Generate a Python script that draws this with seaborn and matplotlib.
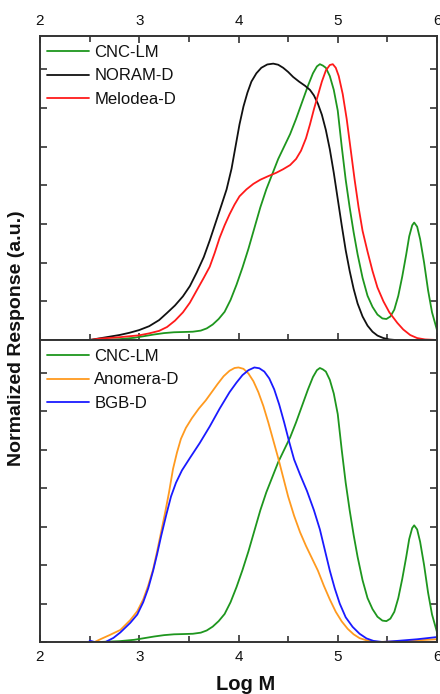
import numpy as np
import pandas as pd
import matplotlib
matplotlib.use("Agg")
import matplotlib.pyplot as plt
from matplotlib.ticker import MultipleLocator
import seaborn as sns

# ---- data (Log M vs normalized response) ----
cnc_x = [2.60, 2.80, 2.95, 3.05, 3.15, 3.25, 3.35, 3.45, 3.54, 3.62, 3.68, 3.74, 3.80, 3.86, 3.92,
         3.98, 4.04, 4.10, 4.16, 4.22, 4.28, 4.34, 4.40, 4.46, 4.52, 4.58, 4.64, 4.70, 4.75, 4.79,
         4.82, 4.85, 4.88, 4.92, 4.96, 5.00, 5.04, 5.08, 5.12, 5.16, 5.20, 5.25, 5.30, 5.35, 5.40,
         5.45, 5.49, 5.53, 5.57, 5.61, 5.65, 5.69, 5.72, 5.75, 5.77, 5.80, 5.83, 5.87, 5.91, 5.95, 6.00]
cnc_y = [0.000, 0.003, 0.008, 0.014, 0.020, 0.025, 0.028, 0.029, 0.030, 0.034, 0.042, 0.056, 0.076, 0.102, 0.145,
         0.200, 0.262, 0.330, 0.405, 0.480, 0.545, 0.600, 0.655, 0.700, 0.745, 0.800, 0.860, 0.920, 0.965, 0.990,
         0.998, 0.993, 0.985, 0.955, 0.905, 0.830, 0.700, 0.580, 0.480, 0.390, 0.310, 0.225, 0.160, 0.120, 0.092,
         0.078, 0.076, 0.085, 0.110, 0.160, 0.230, 0.310, 0.375, 0.415, 0.425, 0.410, 0.365, 0.280, 0.180, 0.100, 0.036]

noram_x = [2.50, 2.60, 2.70, 2.80, 2.90, 3.00, 3.10, 3.20, 3.28, 3.36, 3.44, 3.51, 3.58, 3.65, 3.71,
           3.77, 3.83, 3.88, 3.93, 3.97, 4.01, 4.05, 4.09, 4.13, 4.18, 4.23, 4.29, 4.35, 4.40, 4.45,
           4.50, 4.55, 4.61, 4.67, 4.72, 4.76, 4.80, 4.84, 4.88, 4.92, 4.96, 5.00, 5.04, 5.08, 5.12,
           5.16, 5.20, 5.25, 5.30, 5.35, 5.40, 5.46, 5.52, 5.58]
noram_y = [0.000, 0.006, 0.012, 0.018, 0.026, 0.036, 0.050, 0.072, 0.098, 0.125, 0.158, 0.195, 0.245, 0.300, 0.360,
           0.425, 0.490, 0.545, 0.620, 0.700, 0.780, 0.845, 0.895, 0.935, 0.965, 0.985, 0.997, 1.000, 0.996, 0.985,
           0.970, 0.952, 0.935, 0.920, 0.905, 0.885, 0.855, 0.815, 0.760, 0.690, 0.605, 0.510, 0.415, 0.325, 0.250,
           0.185, 0.132, 0.085, 0.052, 0.030, 0.016, 0.007, 0.002, 0.000]

melodea_x = [2.50, 2.60, 2.80, 3.00, 3.10, 3.20, 3.28, 3.36, 3.44, 3.51, 3.58, 3.65, 3.71, 3.76, 3.81,
             3.86, 3.91, 3.96, 4.01, 4.08, 4.15, 4.22, 4.30, 4.38, 4.45, 4.52, 4.58, 4.63, 4.68, 4.72,
             4.76, 4.80, 4.84, 4.88, 4.92, 4.95, 4.98, 5.01, 5.05, 5.09, 5.13, 5.17, 5.21, 5.25, 5.30,
             5.35, 5.40, 5.46, 5.52, 5.60, 5.66, 5.73, 5.80, 5.88, 6.00]
melodea_y = [0.000, 0.005, 0.010, 0.017, 0.024, 0.033, 0.047, 0.070, 0.100, 0.135, 0.180, 0.225, 0.265, 0.315, 0.370,
             0.415, 0.455, 0.490, 0.520, 0.545, 0.565, 0.580, 0.593, 0.605, 0.618, 0.633, 0.655, 0.685, 0.730, 0.780,
             0.835, 0.885, 0.935, 0.975, 0.995, 0.998, 0.985, 0.955, 0.890, 0.800, 0.690, 0.580, 0.480, 0.395, 0.320,
             0.250, 0.190, 0.140, 0.100, 0.062, 0.038, 0.018, 0.007, 0.002, 0.000]

anomera_x = [2.55, 2.62, 2.70, 2.81, 2.91, 2.98, 3.04, 3.09, 3.14, 3.18, 3.22, 3.26, 3.30, 3.34, 3.38,
             3.42, 3.47, 3.53, 3.60, 3.67, 3.73, 3.79, 3.85, 3.91, 3.96, 4.00, 4.05, 4.10, 4.15, 4.20,
             4.25, 4.30, 4.35, 4.40, 4.45, 4.50, 4.56, 4.62, 4.68, 4.74, 4.80, 4.86, 4.92, 4.98, 5.04,
             5.10, 5.16, 5.22, 5.30, 5.40, 5.60, 5.80, 6.00]
anomera_y = [0.000, 0.012, 0.025, 0.044, 0.080, 0.112, 0.155, 0.205, 0.265, 0.330, 0.400, 0.470, 0.545, 0.630, 0.690,
             0.740, 0.780, 0.815, 0.850, 0.880, 0.910, 0.940, 0.968, 0.988, 0.998, 1.000, 0.995, 0.978, 0.950, 0.910,
             0.860, 0.800, 0.735, 0.670, 0.600, 0.530, 0.460, 0.400, 0.350, 0.305, 0.260, 0.205, 0.155, 0.110, 0.075,
             0.048, 0.028, 0.014, 0.005, 0.000, 0.002, 0.006, 0.010]

bgb_x = [2.50, 2.55, 2.60, 2.66, 2.74, 2.81, 2.91, 2.98, 3.04, 3.09, 3.14, 3.18, 3.22, 3.27, 3.32,
         3.37, 3.43, 3.51, 3.61, 3.71, 3.81, 3.91, 3.98, 4.04, 4.10, 4.16, 4.21, 4.26, 4.31, 4.36,
         4.41, 4.46, 4.51, 4.56, 4.62, 4.69, 4.76, 4.82, 4.87, 4.92, 4.97, 5.02, 5.08, 5.15, 5.22,
         5.29, 5.36, 5.45, 5.60, 5.80, 6.00]
bgb_y = [0.005, 0.000, -0.004, 0.000, 0.015, 0.035, 0.070, 0.100, 0.145, 0.195, 0.260, 0.320, 0.385, 0.460, 0.530,
         0.580, 0.625, 0.670, 0.725, 0.785, 0.850, 0.910, 0.945, 0.972, 0.990, 1.000, 0.997, 0.985, 0.960, 0.920,
         0.865, 0.800, 0.730, 0.665, 0.610, 0.550, 0.480, 0.410, 0.335, 0.260, 0.195, 0.140, 0.090, 0.055, 0.030,
         0.013, 0.004, 0.000, 0.004, 0.010, 0.018]

top_names = ["CNC-LM", "NORAM-D", "Melodea-D"]
bottom_names = ["CNC-LM", "Anomera-D", "BGB-D"]
colors = {"CNC-LM": "#1e961e", "NORAM-D": "#111111", "Melodea-D": "#ff1a1a",
          "Anomera-D": "#ff9a1f", "BGB-D": "#1a1aff"}


def long_df(names, xs, ys):
    parts = []
    for n, x, y in zip(names, xs, ys):
        parts.append(pd.DataFrame({"logM": x, "resp": y, "sample": n}))
    return pd.concat(parts, ignore_index=True)


df_top = long_df(top_names, [cnc_x, noram_x, melodea_x], [cnc_y, noram_y, melodea_y])
df_bot = long_df(bottom_names, [cnc_x, anomera_x, bgb_x], [cnc_y, anomera_y, bgb_y])

sns.set_theme(style="ticks")
plt.rcParams["font.family"] = ["Liberation Sans", "DejaVu Sans"]
plt.rcParams["text.color"] = "#111111"

fig = plt.figure(figsize=(4.4, 6.94), dpi=100)
ax1 = fig.add_axes([40 / 440, 1 - 340 / 694, 397 / 440, 304 / 694])
ax2 = fig.add_axes([40 / 440, 1 - 642 / 694, 397 / 440, 302 / 694])

for ax, df, names in [(ax1, df_top, top_names), (ax2, df_bot, bottom_names)]:
    sns.lineplot(data=df, x="logM", y="resp", hue="sample", hue_order=names,
                 palette=colors, sort=False, estimator=None, linewidth=1.3, ax=ax)
    ax.set_xlim(2, 6)
    ax.set_ylim(0, 1.1)
    ax.xaxis.set_major_locator(MultipleLocator(1))
    ax.xaxis.set_minor_locator(MultipleLocator(0.5))
    ax.yaxis.set_major_locator(MultipleLocator(0.14))
    ax.set_yticklabels([])
    ax.set_xlabel("")
    ax.set_ylabel("")
    for s in ax.spines.values():
        s.set_color("#333333")
        s.set_linewidth(1.4)
    ax.tick_params(axis="both", which="both", direction="in", color="#333333",
                   width=1.2, labelsize=11, pad=6, labelcolor="#111111")
    ax.tick_params(axis="both", which="major", length=5)
    ax.tick_params(axis="both", which="minor", length=4)
    ax.tick_params(axis="y", left=True, right=True)
    leg = ax.legend(loc="upper left", bbox_to_anchor=(0.0, 0.993), frameon=False, fontsize=12,
                    handlelength=2.55, handletextpad=0.3, labelspacing=0.52, borderaxespad=0.0)
    for line in leg.get_lines():
        line.set_linewidth(1.3)
    for t in leg.get_texts():
        t.set_color("#111111")

ax1.tick_params(axis="x", which="both", top=True, bottom=True, labeltop=True, labelbottom=False)
ax2.tick_params(axis="x", which="both", top=False, bottom=True, labeltop=False, labelbottom=True)

fig.text(17 / 440, 1 - 338 / 694, "Normalized Response (a.u.)", rotation=90, ha="center",
         va="center", fontsize=14, fontweight="bold")
fig.text(246 / 440, 1 - 685 / 694, "Log M", ha="center", va="center",
         fontsize=14.5, fontweight="bold")

fig.savefig("out.png", dpi=100)
